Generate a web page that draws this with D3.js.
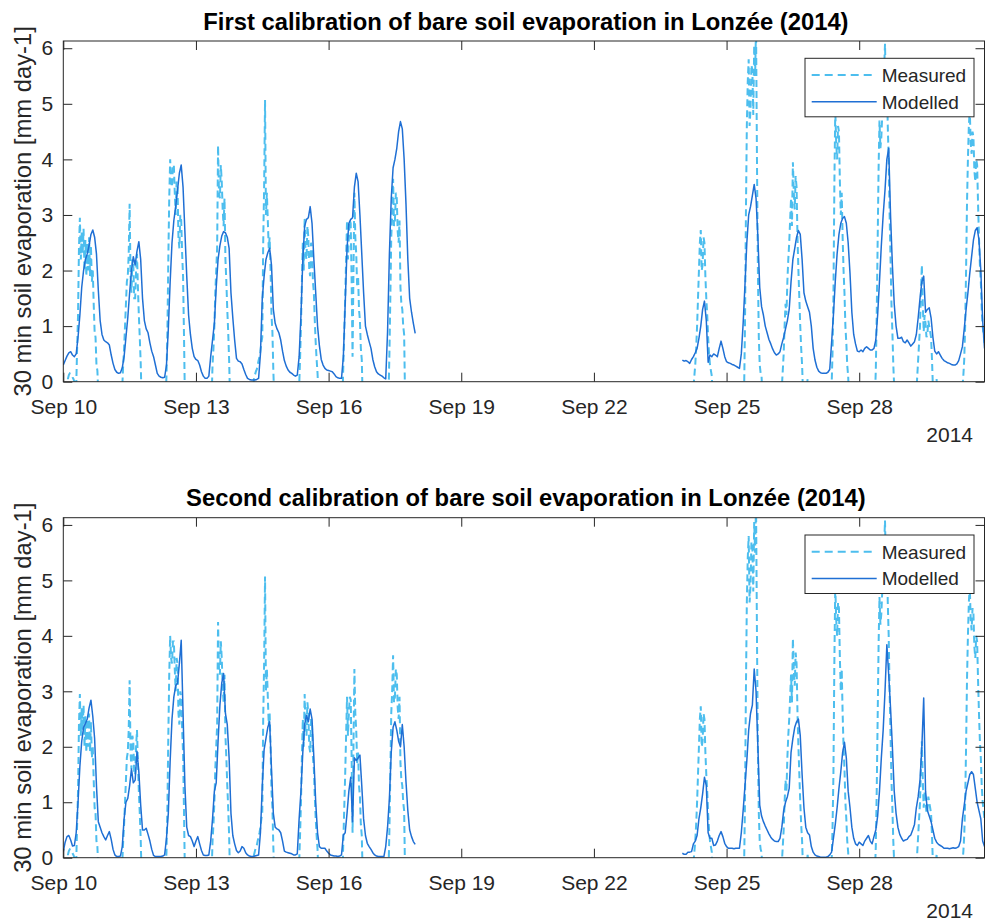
<!DOCTYPE html>
<html>
<head>
<meta charset="utf-8">
<script src="https://cdn.jsdelivr.net/npm/d3@7"></script>
<style>
  html, body { margin: 0; padding: 0; background: #fff; }
  svg { display: block; font-family: "Liberation Sans", Arial, Helvetica, sans-serif; }
</style>
</head>
<body>
<svg id="chart" width="985" height="924"></svg>
<script>
// Soil evaporation at Lonzée, 2014: measured (half-hourly) vs modelled (hourly).
// Two stretches of record: Sep 10 00:00 – Sep 17 23:30 and Sep 24 00:00 – Sep 30 20:00.
const startA = Date.UTC(2014, 8, 10, 0);
const startB = Date.UTC(2014, 8, 24, 0);
const xStart = Date.UTC(2014, 8, 10, 0);
const xEnd = Date.UTC(2014, 8, 30, 20);

const panelTitles = [
  "First calibration of bare soil evaporation in Lonzée (2014)",
  "Second calibration of bare soil evaporation in Lonzée (2014)"
];
const seriesNames = ["Measured", "Modelled"];
const yLabel = "30 min soil evaporation [mm day-1]";
const yearLabel = "2014";
const xTickDates = ["2014-09-10", "2014-09-13", "2014-09-16", "2014-09-19", "2014-09-22", "2014-09-25", "2014-09-28"];
const yTicks = [0, 1, 2, 3, 4, 5, 6];
const yMax = 6.13;

// Measured, every 30 min, one row per day (night-time values fall below zero)
const measuredA = [
  -0.3,-0.3,-0.3,-0.3,-0.2,0.05,0.12,0.15,0.14,0.12,0.08,0.05,0.0,-0.2,-0.1,0.6,1.2,2.4,2.95,2.2,2.7,2.3,2.75,2.0,2.55,1.9,2.5,2.0,2.6,1.9,2.45,1.8,2.0,1.4,0.9,0.8,0.3,0.2,-0.2,-0.3,-0.3,-0.3,-0.3,-0.3,-0.3,-0.3,-0.3,-0.3,
  -0.3,-0.3,-0.3,-0.3,-0.3,-0.3,-0.3,-0.3,-0.3,-0.3,-0.3,-0.3,-0.3,-0.3,-0.3,-0.3,-0.1,0.3,0.6,1.0,1.4,1.8,1.9,2.3,3.2,1.9,1.6,2.2,2.1,1.5,1.5,2.0,2.3,1.7,1.2,0.8,0.35,-0.3,-0.3,-0.3,-0.3,-0.3,-0.3,-0.3,-0.3,-0.3,-0.3,-0.3,
  -0.3,-0.3,-0.3,-0.3,-0.3,-0.3,-0.3,-0.3,-0.3,-0.3,-0.3,-0.3,-0.3,-0.3,-0.3,-0.3,0.1,0.9,2.2,3.3,4.0,3.6,3.5,3.9,3.9,3.4,3.0,3.6,3.5,2.6,2.4,3.0,2.9,2.3,1.9,0.85,-0.3,-0.3,-0.3,-0.3,-0.3,-0.3,-0.3,-0.3,-0.3,-0.3,-0.3,-0.3,
  -0.3,-0.3,-0.3,-0.3,-0.3,-0.3,-0.3,-0.3,-0.3,-0.3,-0.3,-0.3,-0.3,-0.3,-0.3,-0.3,-0.3,-0.3,0.3,0.6,1.0,1.6,2.0,2.4,4.25,3.4,3.3,3.9,3.6,3.1,2.8,3.3,2.2,1.8,1.3,0.9,0.4,-0.3,-0.3,-0.3,-0.3,-0.3,-0.3,-0.3,-0.3,-0.3,-0.3,-0.3,
  -0.3,-0.3,-0.3,-0.3,-0.3,-0.3,-0.3,-0.3,-0.3,-0.3,-0.3,-0.3,-0.3,-0.2,-0.1,0.05,0.12,0.18,0.22,0.3,0.38,0.45,0.55,0.7,0.8,2.5,3.5,5.07,3.0,3.4,2.9,2.4,2.6,2.0,1.2,0.9,0.2,-0.3,-0.3,-0.3,-0.3,-0.3,-0.3,-0.3,-0.3,-0.3,-0.3,-0.3,
  -0.3,-0.3,-0.3,-0.3,-0.3,-0.3,-0.3,-0.3,-0.3,-0.3,-0.3,-0.3,-0.3,-0.3,-0.3,-0.3,-0.1,0.4,1.0,1.8,2.5,2.0,2.95,2.3,2.2,2.8,2.6,2.0,1.9,2.5,2.4,1.8,1.6,1.1,0.7,0.4,0.15,-0.3,-0.3,-0.3,-0.3,-0.3,-0.3,-0.3,-0.3,-0.3,-0.3,-0.3,
  -0.3,-0.3,-0.3,-0.3,-0.3,-0.3,-0.3,-0.3,-0.3,-0.3,-0.3,-0.3,-0.3,-0.3,-0.3,-0.3,0.3,0.9,1.5,2.2,2.9,2.2,2.6,2.9,2.85,1.8,0.45,2.0,3.4,2.6,2.3,1.7,1.9,1.3,1.1,0.6,0.4,-0.3,-0.3,-0.3,-0.3,-0.3,-0.3,-0.3,-0.3,-0.3,-0.3,-0.3,
  -0.3,-0.3,-0.3,-0.3,-0.3,-0.3,-0.3,-0.3,-0.3,-0.3,-0.3,-0.3,-0.3,-0.3,-0.3,-0.3,-0.3,-0.3,0.5,1.5,2.6,3.0,3.65,2.8,2.9,3.4,3.3,2.7,2.5,2.9,1.7,1.4,1.3,1.0,0.85,-0.3,-0.3,-0.3,-0.3,-0.3,-0.3,-0.3,-0.3,-0.3,-0.3,-0.3,-0.3,-0.3
];
const measuredB = [
  -0.3,-0.3,-0.3,-0.3,-0.3,-0.3,-0.3,-0.3,-0.3,-0.3,-0.3,-0.3,-0.1,0.1,0.3,0.6,1.0,1.5,2.0,2.5,2.73,2.0,2.1,2.6,2.5,1.9,1.5,1.2,0.8,0.5,0.3,0.2,0.1,-0.3,-0.3,-0.3,-0.3,-0.3,-0.3,-0.3,-0.3,-0.3,-0.3,-0.3,-0.3,-0.3,-0.3,-0.3,
  -0.3,-0.3,-0.3,-0.3,-0.3,-0.3,-0.3,-0.3,-0.3,-0.3,-0.3,-0.3,-0.3,-0.3,-0.3,-0.3,-0.3,-0.3,-0.3,-0.2,1.0,3.0,4.6,5.4,5.8,4.6,4.9,5.7,5.6,4.8,6.05,5.5,6.4,4.0,2.0,0.8,0.3,0.15,0.1,-0.3,-0.3,-0.3,-0.3,-0.3,-0.3,-0.3,-0.3,-0.3,
  -0.3,-0.3,-0.3,-0.3,-0.3,-0.3,-0.3,-0.3,-0.3,-0.3,-0.3,-0.3,-0.1,0.2,0.5,1.0,1.4,1.2,1.8,2.2,2.5,2.9,3.3,2.8,3.95,3.4,3.1,3.7,3.5,2.6,2.0,1.5,1.0,0.6,0.3,-0.2,-0.3,-0.3,-0.2,-0.1,0.05,-0.1,-0.2,-0.3,-0.3,-0.3,-0.3,-0.3,
  -0.3,-0.3,-0.3,-0.3,-0.3,-0.3,-0.3,-0.3,-0.3,-0.3,-0.3,-0.3,-0.3,-0.3,-0.3,-0.3,-0.3,-0.3,-0.1,0.5,1.5,3.5,4.9,4.3,4.0,4.6,4.5,3.6,3.0,3.4,2.6,2.0,1.6,1.0,0.7,0.3,0.1,-0.3,-0.3,-0.3,-0.3,-0.3,-0.3,-0.3,-0.3,-0.3,-0.3,-0.3,
  -0.3,-0.3,-0.3,-0.3,-0.3,-0.3,-0.3,-0.3,-0.3,-0.3,-0.3,-0.3,-0.3,-0.3,-0.3,-0.3,-0.3,-0.3,0.2,1.2,2.5,3.8,4.7,4.2,4.4,4.8,4.9,5.6,6.08,5.2,5.5,4.6,4.0,3.0,2.2,1.4,0.9,0.3,-0.1,-0.3,-0.3,-0.3,-0.3,-0.3,-0.3,-0.3,-0.3,-0.3,
  -0.3,-0.3,-0.3,-0.3,-0.3,-0.3,-0.3,-0.3,-0.3,-0.3,-0.3,-0.3,-0.3,-0.3,-0.2,0.1,0.4,0.7,1.0,1.6,2.1,1.4,0.9,1.2,1.05,0.8,0.85,1.1,1.0,0.9,0.8,0.4,-0.1,-0.3,-0.3,-0.1,0.05,-0.3,-0.3,-0.3,-0.3,-0.3,-0.3,-0.3,-0.3,-0.3,-0.3,-0.3,
  -0.3,-0.3,-0.3,-0.3,-0.3,-0.3,-0.3,-0.3,-0.3,-0.3,-0.3,-0.3,-0.3,-0.3,-0.3,-0.3,-0.1,0.1,0.4,1.0,2.0,3.2,4.0,4.6,4.9,4.3,4.1,4.5,4.4,3.8,3.6,4.0,3.9,3.2,2.6,2.1,1.8,1.3,1.0,0.85,0.7
];

// Model output, first calibration (hourly)
const model1A = [
  0.30,0.38,0.46,0.52,0.54,0.48,0.45,0.50,0.80,1.2,1.7,2.0,2.2,2.3,2.45,2.65,2.73,2.6,2.3,1.65,1.1,0.85,0.75,0.72,
  0.70,0.66,0.48,0.33,0.22,0.17,0.15,0.16,0.25,0.45,0.8,1.15,1.6,2.0,2.25,2.1,2.35,2.52,2.2,1.5,1.1,0.95,0.88,0.7,
  0.55,0.45,0.3,0.15,0.1,0.08,0.07,0.08,0.3,0.95,1.8,2.5,2.9,3.15,3.45,3.75,3.9,3.5,2.7,1.9,1.2,0.85,0.6,0.45,
  0.4,0.38,0.3,0.18,0.1,0.06,0.06,0.1,0.45,0.75,1.05,1.7,2.2,2.45,2.62,2.7,2.68,2.6,2.4,1.6,1.15,0.75,0.42,0.37,
  0.36,0.32,0.22,0.13,0.06,0.04,0.03,0.03,0.03,0.04,0.06,0.5,1.5,1.9,2.2,2.32,2.4,2.1,1.3,1.05,0.95,0.88,0.75,0.55,
  0.38,0.28,0.21,0.17,0.15,0.12,0.1,0.12,0.45,1.2,2.2,2.8,2.92,2.95,3.15,2.85,2.2,1.6,1.0,0.65,0.4,0.3,0.24,0.21,
  0.2,0.19,0.18,0.14,0.09,0.07,0.06,0.06,0.45,1.4,2.4,2.85,2.92,2.95,3.5,3.75,3.6,3.0,2.3,1.6,1.0,0.85,0.72,0.6,
  0.4,0.27,0.18,0.14,0.12,0.1,0.07,0.05,0.9,2.3,3.3,3.85,4.0,4.2,4.5,4.68,4.55,4.0,3.2,2.2,1.5,1.25,1.05,0.87
];
const model1B = [
  0.39,0.37,0.38,0.36,0.33,0.40,0.45,0.52,0.6,0.78,1.0,1.3,1.45,1.1,0.35,0.48,0.45,0.5,0.48,0.45,0.6,0.73,0.6,0.45,
  0.36,0.34,0.33,0.31,0.30,0.28,0.26,0.24,0.5,1.05,1.75,2.5,3.0,3.15,3.35,3.55,3.3,2.6,1.7,1.35,1.2,1.0,0.88,0.76,
  0.68,0.59,0.52,0.48,0.5,0.54,0.68,0.8,0.95,1.1,1.3,1.8,2.2,2.4,2.6,2.72,2.65,2.2,1.6,1.45,1.35,1.25,1.0,0.6,
  0.39,0.26,0.19,0.16,0.15,0.15,0.15,0.17,0.22,0.7,1.2,1.8,2.3,2.65,2.85,2.94,2.97,2.85,2.5,1.95,1.25,0.85,0.68,0.55,
  0.54,0.57,0.54,0.6,0.63,0.6,0.57,0.57,0.6,0.75,1.2,1.8,2.45,3.0,3.45,4.0,4.2,3.0,2.1,1.4,1.0,0.78,0.78,0.8,
  0.72,0.7,0.75,0.7,0.64,0.68,0.72,0.85,1.15,1.5,1.8,1.9,1.25,1.3,1.33,1.15,0.8,0.55,0.5,0.54,0.48,0.42,0.38,0.36,
  0.34,0.33,0.31,0.30,0.30,0.32,0.38,0.5,0.63,0.95,1.3,1.6,1.95,2.25,2.55,2.72,2.77,2.55,2.0,1.1,0.6
];

// Model output, second calibration (hourly)
const model2A = [
  0.11,0.28,0.38,0.4,0.32,0.21,0.22,0.45,1.0,1.65,2.1,2.35,2.42,2.5,2.7,2.84,2.55,2.15,1.3,0.65,0.55,0.45,0.38,0.32,
  0.4,0.47,0.33,0.15,0.05,0.02,0.02,0.03,0.2,0.7,1.0,1.07,1.3,1.6,1.35,1.4,1.92,1.55,0.95,0.5,0.5,0.53,0.42,0.3,
  0.15,0.04,0.02,0.02,0.02,0.02,0.03,0.05,0.35,0.8,1.75,2.5,2.9,3.1,3.15,3.5,3.92,2.6,1.3,0.55,0.4,0.38,0.3,0.2,
  0.3,0.38,0.25,0.13,0.05,0.04,0.04,0.05,0.3,0.7,1.2,1.35,2.1,2.75,3.15,3.32,2.6,2.4,1.8,0.8,0.4,0.25,0.13,0.09,
  0.12,0.2,0.17,0.09,0.05,0.03,0.02,0.02,0.03,0.04,0.05,0.45,1.3,1.95,2.15,2.35,2.45,1.6,0.8,0.55,0.52,0.5,0.45,0.3,
  0.12,0.1,0.09,0.08,0.07,0.05,0.05,0.07,0.7,1.2,1.9,2.4,2.57,2.45,2.68,2.5,1.8,1.0,0.45,0.2,0.17,0.17,0.17,0.12,
  0.08,0.05,0.04,0.03,0.03,0.02,0.03,0.05,0.41,0.45,0.8,1.2,1.45,0.65,1.8,1.75,1.8,1.85,1.3,0.7,0.4,0.26,0.2,0.15,
  0.09,0.05,0.03,0.02,0.02,0.02,0.02,0.2,0.55,1.07,1.9,2.35,2.45,2.3,2.1,2.0,2.4,2.0,1.37,0.85,0.5,0.38,0.29,0.24
];
const model2B = [
  0.08,0.06,0.06,0.1,0.1,0.11,0.25,0.3,0.4,0.7,0.9,1.15,1.45,1.3,0.45,0.35,0.35,0.22,0.23,0.3,0.4,0.47,0.38,0.26,
  0.2,0.17,0.17,0.17,0.16,0.17,0.17,0.17,0.45,0.85,1.3,1.75,2.3,2.6,2.75,3.4,3.0,2.0,0.95,0.75,0.65,0.57,0.5,0.43,
  0.37,0.33,0.3,0.29,0.29,0.35,0.55,0.85,1.0,1.1,1.25,1.9,2.15,2.35,2.45,2.5,2.2,1.5,0.9,0.55,0.45,0.41,0.2,0.1,
  0.05,0.03,0.02,0.01,0.01,0.01,0.01,0.02,0.05,0.1,0.35,0.6,0.9,1.25,1.55,1.9,2.08,1.8,1.2,0.9,0.55,0.35,0.25,0.22,
  0.28,0.25,0.22,0.3,0.35,0.4,0.3,0.25,0.38,0.5,0.75,1.2,1.8,2.3,3.0,3.84,3.3,2.7,2.0,1.2,0.8,0.55,0.42,0.35,
  0.3,0.32,0.33,0.38,0.41,0.5,0.6,0.9,1.1,1.4,2.0,2.88,1.2,0.85,0.75,0.65,0.5,0.35,0.28,0.24,0.22,0.2,0.17,0.17,
  0.17,0.16,0.17,0.18,0.17,0.18,0.2,0.3,0.7,0.95,1.2,1.35,1.5,1.55,1.5,1.25,1.0,0.85,0.7,0.3,0.2
];

const colors = { measured: "#4dbeee", modelled: "#1f6fd4", axis: "#262626" };
const HOUR = 3600 * 1000;

function toPoints(startMs, values, stepHours) {
  return values.map((v, i) => ({ date: new Date(startMs + i * stepHours * HOUR), v }));
}

const svg = d3.select("#chart");

const margin = { left: 63.3, right: 984.5 };
const panels = [
  { top: 41, bottom: 381.7, titleY: 30, model: [model1A, model1B] },
  { top: 517.7, bottom: 857.7, titleY: 506, model: [model2A, model2B] }
];

const x = d3.scaleUtc()
  .domain([new Date(xStart), new Date(xEnd)])
  .range([margin.left, margin.right]);

const tickDates = xTickDates.map(s => new Date(s + "T00:00:00Z"));
const fmt = d3.utcFormat("%b %d");
const defs = svg.append("defs");

panels.forEach((p, idx) => {
  const y = d3.scaleLinear().domain([0, yMax]).range([p.bottom, p.top]);
  const g = svg.append("g");
  const w = margin.right - margin.left;
  const h = p.bottom - p.top;

  const clipId = "clip" + idx;
  defs.append("clipPath").attr("id", clipId)
    .append("rect").attr("x", margin.left).attr("y", p.top).attr("width", w).attr("height", h);

  const line = d3.line().x(d => x(d.date)).y(d => y(d.v));

  const plot = g.append("g").attr("clip-path", `url(#${clipId})`);
  [toPoints(startA, measuredA, 0.5), toPoints(startB, measuredB, 0.5)].forEach(pts => {
    plot.append("path").datum(pts)
      .attr("d", line)
      .attr("fill", "none")
      .attr("stroke", colors.measured)
      .attr("stroke-width", 2)
      .attr("stroke-dasharray", "7,4");
  });
  [toPoints(startA, p.model[0], 1), toPoints(startB, p.model[1], 1)].forEach(pts => {
    plot.append("path").datum(pts)
      .attr("d", line)
      .attr("fill", "none")
      .attr("stroke", colors.modelled)
      .attr("stroke-width", 1.5)
      .attr("stroke-linejoin", "round");
  });

  // Axes: ticks point inward on all four sides
  const xAxisB = d3.axisBottom(x).tickValues(tickDates).tickFormat(fmt)
    .tickSizeInner(-9).tickSizeOuter(0).tickPadding(17);
  const xAxisT = d3.axisTop(x).tickValues(tickDates).tickFormat("")
    .tickSizeInner(-9).tickSizeOuter(0);
  const yAxisL = d3.axisLeft(y).tickValues(yTicks).tickFormat(d3.format("d"))
    .tickSizeInner(-9).tickSizeOuter(0).tickPadding(10);
  const yAxisR = d3.axisRight(y).tickValues(yTicks).tickFormat("")
    .tickSizeInner(-9).tickSizeOuter(0);

  const axB = g.append("g").attr("transform", `translate(0,${p.bottom})`).call(xAxisB);
  const axT = g.append("g").attr("transform", `translate(0,${p.top})`).call(xAxisT);
  const axL = g.append("g").attr("transform", `translate(${margin.left},0)`).call(yAxisL);
  const axR = g.append("g").attr("transform", `translate(${margin.right},0)`).call(yAxisR);
  [axB, axT, axL, axR].forEach(a => {
    a.select(".domain").remove();
    a.selectAll("line").attr("stroke", colors.axis).attr("stroke-width", 1);
    a.selectAll("text").attr("fill", colors.axis).style("font-size", "21px")
      .style("font-family", '"Liberation Sans", Arial, sans-serif');
  });

  g.append("rect")
    .attr("x", margin.left).attr("y", p.top).attr("width", w).attr("height", h)
    .attr("fill", "none").attr("stroke", colors.axis).attr("stroke-width", 1);

  // Year annotation under the last tick label
  g.append("text")
    .attr("x", 973).attr("y", p.bottom + 60.5)
    .attr("text-anchor", "end").attr("fill", colors.axis)
    .style("font-size", "21px").text(yearLabel);

  // Title
  g.append("text")
    .attr("x", (margin.left + margin.right) / 2 + 2).attr("y", p.titleY)
    .attr("text-anchor", "middle").attr("fill", "#000")
    .style("font-size", "23.8px").style("font-weight", "bold")
    .text(panelTitles[idx]);

  // Y axis label
  g.append("text")
    .attr("transform", `translate(30.7,${(p.top + p.bottom) / 2}) rotate(-90)`)
    .attr("text-anchor", "middle").attr("fill", colors.axis)
    .style("font-size", "23.8px").text(yLabel);

  // Legend
  const lx = 805, ly = p.top + 17.3, lw = 169, lh = 58.5;
  const leg = g.append("g");
  leg.append("rect").attr("x", lx).attr("y", ly).attr("width", lw).attr("height", lh)
    .attr("fill", "#fff").attr("stroke", colors.axis).attr("stroke-width", 1);
  const rows = [
    { name: seriesNames[0], color: colors.measured, dash: "8,5", width: 2 },
    { name: seriesNames[1], color: colors.modelled, dash: null, width: 1.5 }
  ];
  rows.forEach((r, i) => {
    const cy = ly + 16.7 + i * 26.7;
    leg.append("line").attr("x1", lx + 6.7).attr("x2", lx + 71.7)
      .attr("y1", cy).attr("y2", cy)
      .attr("stroke", r.color).attr("stroke-width", r.width)
      .attr("stroke-dasharray", r.dash);
    leg.append("text").attr("x", lx + 76.7).attr("y", cy + 6.8)
      .attr("fill", colors.axis).style("font-size", "19px").text(r.name);
  });
});
</script>
</body>
</html>
